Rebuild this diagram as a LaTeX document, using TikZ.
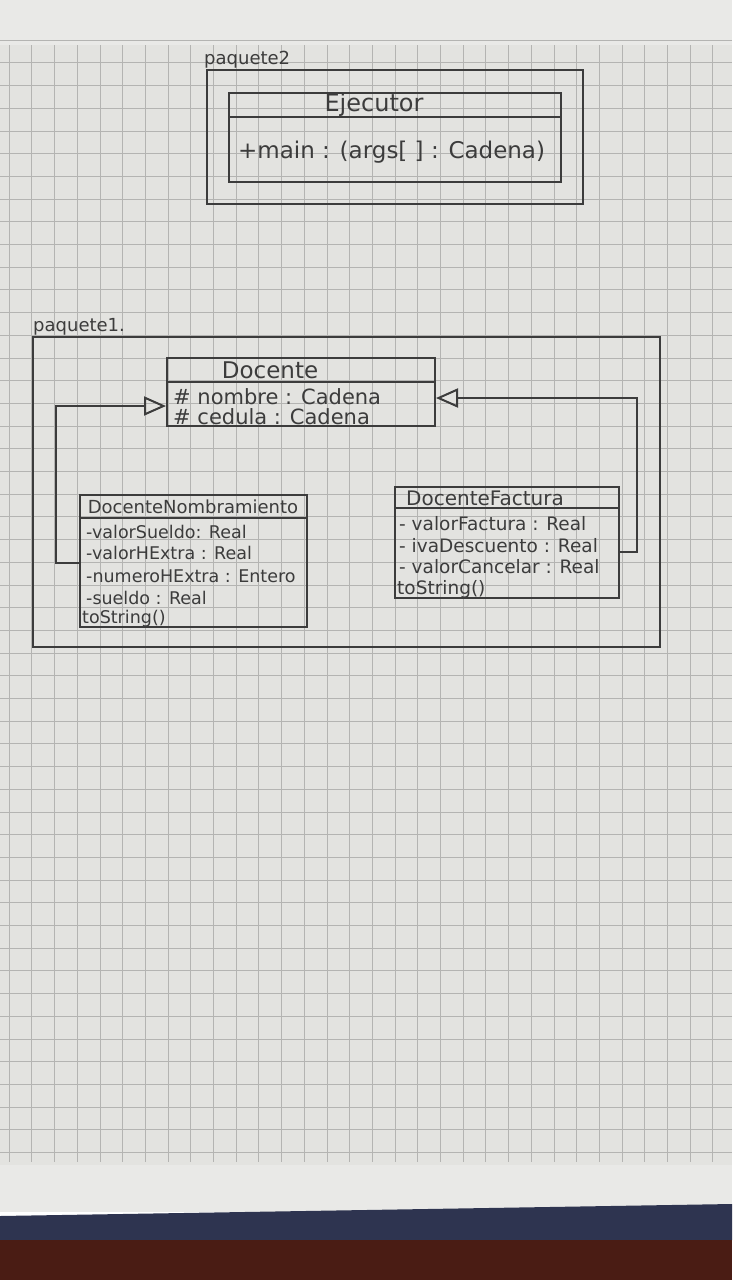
\documentclass[tikz,border=0pt]{standalone}
\usepackage{fontspec}
\setmainfont{DejaVu Sans}
\usetikzlibrary{arrows.meta}

\definecolor{paper}{HTML}{E3E3E0}
\definecolor{papertop}{HTML}{E9E9E7}
\definecolor{gridc}{HTML}{B4B4B2}
\definecolor{ink}{HTML}{3C3C3C}
\definecolor{cloth}{HTML}{2E3450}
\definecolor{wood}{HTML}{4A1C14}

% text sizes
\newcommand{\fsz}[1]{\fontsize{#1}{#1}\selectfont}

\tikzset{
  pen/.style={draw=ink, line width=2pt},
  clsbox/.style={pen, rectangle, inner sep=0pt},
  pkgbox/.style={pen, rectangle, inner sep=0pt},
  hw/.style={text=ink, inner sep=0pt},
  attr/.style={hw, anchor=west},
  gridline/.style={draw=gridc, line width=0.9pt},
  inh/.style={pen, -{Triangle[open, length=22pt, width=19pt, line width=2pt]}}
}

\begin{document}
\begin{tikzpicture}[x=1pt, y=-1pt]
  \useasboundingbox (0,0) rectangle (732,1280);

  % sheet of squared paper
  \fill[papertop] (0,0) rectangle (732,1212);
  \fill[paper] (0,45) rectangle (732,1165);
  \foreach \i in {0,...,31} {
    \draw[gridline] ({9.2+22.7*\i},45) -- ({9.2+22.7*\i},1162);
  }
  \foreach \j in {0,...,49} {
    \draw[gridline] (0,{40.2+22.7*\j}) -- (732,{40.2+22.7*\j});
  }

  % table under the sheet
  \fill[cloth] (0,1216) -- (732,1204) -- (732,1240) -- (0,1240) -- cycle;
  \fill[wood] (0,1240) rectangle (732,1280);

  % ---------- paquete2 ----------
  \node[pkgbox, minimum width=376pt, minimum height=134pt] (pk2) at (395,137) {};
  \node[hw, anchor=south west, font=\fsz{18}] (pk2lbl) at ([xshift=-2pt, yshift=1pt]pk2.north west) {paquete2};

  \node[clsbox, minimum width=332pt, minimum height=89pt] (ejec) at (395,137.5) {};
  \coordinate (ejecdiv) at (0,117);
  \draw[pen] (ejec.west |- ejecdiv) -- (ejec.east |- ejecdiv);
  \node[hw, font=\fsz{24}] (ejecname) at (374,105) {Ejecutor};
  \node[attr, font=\fsz{23}] (ejecmain) at (238,152) {+main : (args[ ] : Cadena)};

  % ---------- paquete1 ----------
  \node[pkgbox, minimum width=627pt, minimum height=310pt] (pk1) at (346.5,492) {};
  \node[hw, anchor=south west, font=\fsz{18}] (pk1lbl) at ([xshift=1pt, yshift=1pt]pk1.north west) {paquete1.};

  % Docente
  \node[clsbox, minimum width=268pt, minimum height=68pt] (doc) at (301,392) {};
  \coordinate (docdiv) at (0,382);
  \draw[pen] (doc.west |- docdiv) -- (doc.east |- docdiv);
  \node[hw, font=\fsz{23}] (docname) at (270,370) {Docente};
  \node[attr, font=\fsz{21}] (docnom) at (173,397) {\# nombre : Cadena};
  \node[attr, font=\fsz{21}] (docced) at (173,417) {\# cedula : Cadena};

  % DocenteNombramiento
  \node[clsbox, minimum width=227pt, minimum height=132pt] (nom) at (193.5,561) {};
  \coordinate (nomdiv) at (0,518);
  \draw[pen] (nom.west |- nomdiv) -- (nom.east |- nomdiv);
  \node[hw, font=\fsz{18}] (nomname) at (193,507) {DocenteNombramiento};
  \node[attr, font=\fsz{17.5}] (nom1) at (86,532) {-valorSueldo: Real};
  \node[attr, font=\fsz{17.5}] (nom2) at (86,553) {-valorHExtra : Real};
  \node[attr, font=\fsz{17.5}] (nom3) at (86,576) {-numeroHExtra : Entero};
  \node[attr, font=\fsz{17.5}] (nom4) at (86,598) {-sueldo : Real};
  \node[attr, font=\fsz{17.5}] (nom5) at (82,619) {toString()};

  % DocenteFactura
  \node[clsbox, minimum width=224pt, minimum height=111pt] (fac) at (507,542.5) {};
  \coordinate (facdiv) at (0,508);
  \draw[pen] (fac.west |- facdiv) -- (fac.east |- facdiv);
  \node[hw, font=\fsz{20}] (facname) at (485,498) {DocenteFactura};
  \node[attr, font=\fsz{18.5}] (fac1) at (399,524) {- valorFactura : Real};
  \node[attr, font=\fsz{18.5}] (fac2) at (399,546) {- ivaDescuento : Real};
  \node[attr, font=\fsz{18.5}] (fac3) at (399,567) {- valorCancelar : Real};
  \node[attr, font=\fsz{18.5}] (fac4) at (397,589) {toString()};

  % generalisations
  \coordinate (nomjoin) at (0,563);
  \coordinate (leftbend) at (56,0);
  \coordinate (docleft) at (0,406);
  \draw[inh] (nom.west |- nomjoin) -| (leftbend |- docleft) -- (doc.west |- docleft);

  \coordinate (facjoin) at (0,552);
  \coordinate (rightbend) at (637,0);
  \coordinate (docright) at (0,398);
  \draw[inh] (fac.east |- facjoin) -| (rightbend |- docright) -- (doc.east |- docright);
\end{tikzpicture}
\end{document}
